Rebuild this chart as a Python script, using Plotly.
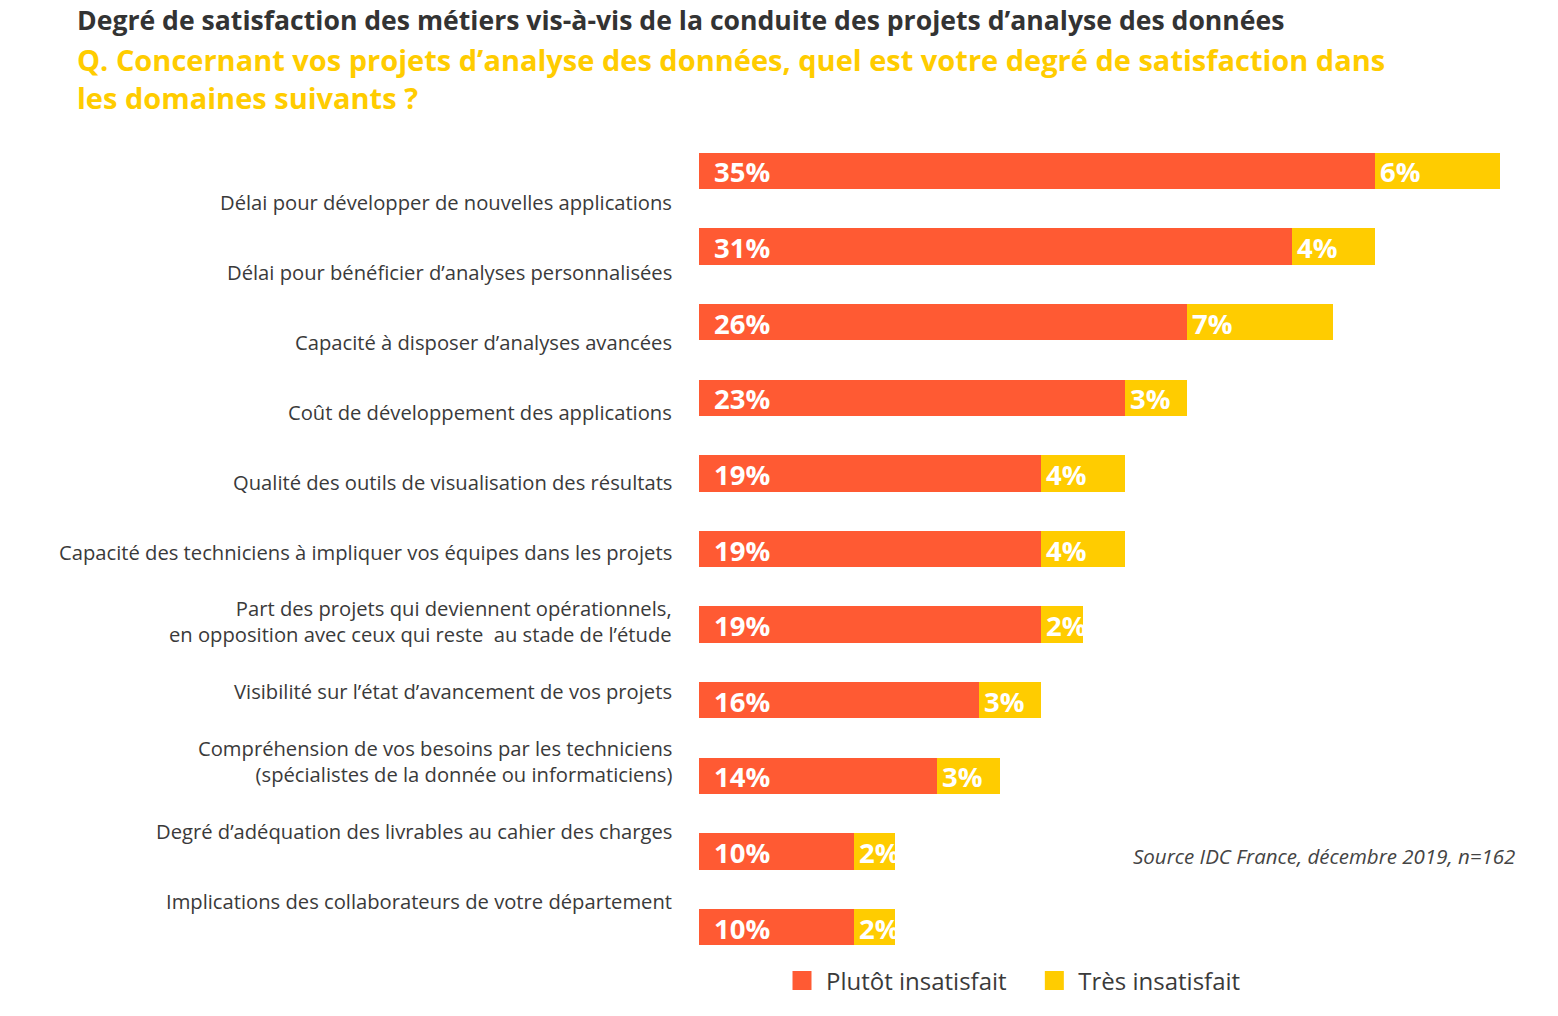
import plotly.graph_objects as go

categories = [
    "Délai pour développer de nouvelles applications",
    "Délai pour bénéficier d’analyses personnalisées",
    "Capacité à disposer d’analyses avancées",
    "Coût de développement des applications",
    "Qualité des outils de visualisation des résultats",
    "Capacité des techniciens à impliquer vos équipes dans les projets",
    "Part des projets qui deviennent opérationnels,<br>en opposition avec ceux qui reste  au stade de l’étude",
    "Visibilité sur l’état d’avancement de vos projets",
    "Compréhension de vos besoins par les techniciens<br>(spécialistes de la donnée ou informaticiens)",
    "Degré d’adéquation des livrables au cahier des charges",
    "Implications des collaborateurs de votre département",
]
plutot = [35, 31, 26, 23, 19, 19, 19, 16, 14, 10, 10]
tres = [6, 4, 7, 3, 4, 4, 2, 3, 3, 2, 2]
series_names = ["Plutôt insatisfait", "Très insatisfait"]

ORANGE = "#FF5A33"
YELLOW = "#FFCC00"
FONT = "Open Sans, Noto Sans, sans-serif"

# body margin removed via post_script -> figure coords == page coords
W, Hfig = 1558, 1016
PL, PR = 699, 1520
PT, PB = 133, 965
PW, PH = PR - PL, PB - PT

def px_y(ypage):
    return (PB - ypage) / PH

def px_x(xpage):
    return (xpage - PL) / PW

ids = list(range(len(categories)))

fig = go.Figure()
fig.add_trace(go.Bar(
    y=ids, x=plutot, orientation="h", name=series_names[0],
    marker=dict(color=ORANGE, line=dict(width=0)), width=0.48,
    hoverinfo="x+name", showlegend=False,
))
fig.add_trace(go.Bar(
    y=ids, x=tres, base=plutot, orientation="h", name=series_names[1],
    marker=dict(color=YELLOW, line=dict(width=0)), width=0.48,
    hoverinfo="x+name", showlegend=False,
))
# legend entries
legend_labels = [series_names[0] + "\u00a0\u00a0\u00a0", series_names[1]]
for name, col in zip(legend_labels, [ORANGE, YELLOW]):
    fig.add_trace(go.Scatter(
        x=[None], y=[None], mode="markers", name=name,
        marker=dict(symbol="square", size=20, color=col, line=dict(color=col, width=3)),
    ))

annotations = []
for i, (p, t) in enumerate(zip(plutot, tres)):
    annotations.append(dict(
        x=0, xref="paper", y=i, yref="y", text=f"<b>{p}%</b>",
        showarrow=False, xanchor="left", yanchor="middle", xshift=13, yshift=-1,
        font=dict(family=FONT, size=27.5, color="white"),
    ))
    annotations.append(dict(
        x=p, xref="x", y=i, yref="y", text=f"<b>{t}%</b>",
        showarrow=False, xanchor="left", yanchor="middle", xshift=3, yshift=-1,
        font=dict(family=FONT, size=27.5, color="white"),
    ))

for i, c in enumerate(categories):
    ypage = 202 + i * 69.9
    annotations.append(dict(
        x=0, xref="paper", y=px_y(ypage), yref="paper", text=c,
        showarrow=False, xanchor="right", yanchor="middle", xshift=-25,
        align="right", font=dict(family=FONT, size=20.2, color="#3a3a3a"),
    ))

annotations.append(dict(
    x=px_x(1517), xref="paper", y=px_y(856), yref="paper",
    text="<i>Source IDC France, décembre 2019, n=162</i>", showarrow=False,
    xanchor="right", yanchor="middle",
    font=dict(family=FONT, size=20.5, color="#444444"),
))

annotations.append(dict(
    x=px_x(75), xref="paper", y=px_y(19.5), yref="paper",
    text="<b>Degré de satisfaction des métiers vis-à-vis de la conduite des projets d’analyse des données</b>",
    showarrow=False, xanchor="left", yanchor="middle",
    font=dict(family=FONT, size=26.6, color="#333333"),
))
annotations.append(dict(
    x=px_x(75), xref="paper", y=px_y(79), yref="paper",
    text="<b>Q. Concernant vos projets d’analyse des données, quel est votre degré de satisfaction dans<br>les domaines suivants ?</b>",
    showarrow=False, xanchor="left", yanchor="middle", align="left",
    font=dict(family=FONT, size=29, color=YELLOW),
))

fig.update_layout(
    width=W, height=Hfig,
    margin=dict(l=PL, r=W - PR, t=PT, b=Hfig - PB, autoexpand=False),
    paper_bgcolor="white", plot_bgcolor="white",
    barmode="overlay",
    bargap=0,
    xaxis=dict(range=[2.59, 41.95], visible=False, fixedrange=True),
    yaxis=dict(range=[len(categories) - 0.5, -0.5], visible=False, fixedrange=True),
    showlegend=True,
    legend=dict(
        orientation="h", x=px_x(778), xanchor="left", y=px_y(981),
        yanchor="middle", font=dict(family=FONT, size=24, color="#3a3a3a"),
        itemwidth=38, bgcolor="rgba(0,0,0,0)", traceorder="normal",
        itemsizing="trace",
    ),
    annotations=annotations,
)

fig.write_html(
    "out.html",
    config={"displayModeBar": False},
    post_script="document.body.style.margin='0';document.body.style.overflow='hidden';",
)
